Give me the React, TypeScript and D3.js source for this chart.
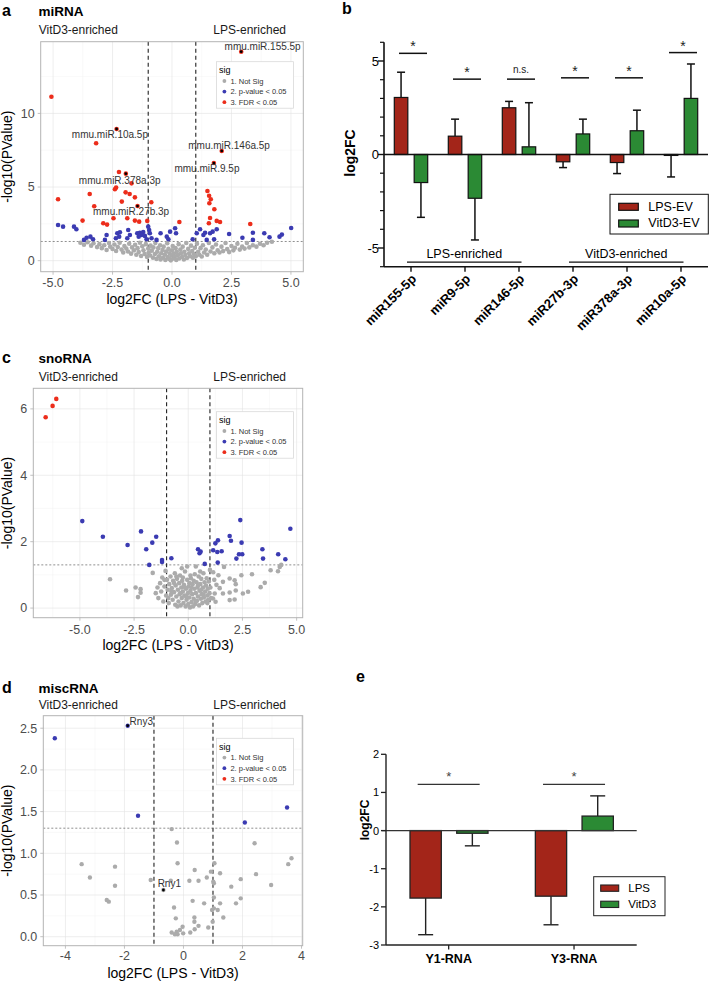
import React from 'react';
import * as d3 from 'd3';

const FONT = "'Liberation Sans', Arial, Helvetica, sans-serif";
const GREY = '#ababab';
const BLUE = '#3b3bb2';
const RED = '#ec2d1b';
const BAR_RED = '#a32519';
const BAR_GREEN = '#2b8a34';

// ---------------- Panel a: miRNA volcano ----------------
const mirnaRed: number[][] = [
  [-5.07, 11.13], [-2.33, 8.94], [-3.19, 7.97], [2.91, 14.19], [2.09, 7.45], [1.76, 6.63],
  [-1.94, 5.91], [-2.23, 6.02], [-1.70, 5.25], [-2.35, 4.96], [-2.40, 4.85], [-3.46, 4.53],
  [-1.95, 4.64], [-1.78, 4.53], [-1.56, 4.30], [-4.79, 4.17], [-2.11, 4.01], [-0.87, 3.97],
  [-1.45, 3.71], [-3.27, 3.70], [-2.46, 2.88], [-1.88, 2.88], [-3.76, 2.72], [-1.56, 2.72],
  [-1.38, 2.65], [-1.04, 2.70], [-2.89, 2.54], [-2.73, 2.45], [0.31, 2.63], [1.49, 4.73],
  [1.56, 4.41], [1.63, 4.17], [1.57, 3.90], [1.78, 3.49], [1.60, 2.90], [1.55, 2.54],
  [1.88, 2.70], [2.02, 2.63], [3.29, 2.49],
];
const mirnaBlue: number[][] = [
  [-4.79, 2.42], [-4.58, 2.31], [-4.12, 2.31], [-4.02, 2.13], [-3.59, 1.56], [-3.43, 1.63],
  [-3.32, 1.45], [-3.70, 1.41], [-2.75, 1.74], [-2.82, 1.41], [-2.30, 1.86], [-2.19, 1.93],
  [-2.22, 1.63], [-2.36, 1.52], [-1.84, 2.08], [-1.77, 1.74], [-1.88, 1.52], [-1.46, 1.86],
  [-1.35, 1.90], [-1.21, 1.95], [-1.28, 1.74], [-1.40, 1.63], [-1.14, 1.68], [-1.00, 2.31],
  [-0.96, 2.08], [-0.93, 1.86], [-0.65, 1.41], [-0.86, 1.52], [-1.07, 1.45], [-0.48, 1.86],
  [-0.22, 1.63], [-0.15, 1.45], [-0.08, 1.97], [0.13, 2.20], [0.17, 1.86], [0.87, 1.45],
  [1.04, 1.86], [1.18, 2.13], [1.32, 1.74], [1.39, 1.90], [1.46, 1.41], [1.60, 1.86],
  [1.71, 1.97], [1.77, 1.45], [1.88, 2.13], [2.40, 1.81], [2.96, 1.56], [3.40, 1.90],
  [3.40, 1.41], [3.88, 1.86], [4.10, 1.59], [4.52, 1.63], [4.62, 1.77], [5.01, 2.22],
];
const mirnaGrey: number[][] = [
  [-3.85, 1.22], [-3.7, 1.08], [-3.55, 1.25], [-3.4, 1.02], [-3.3, 1.18], [-3.15, 0.92], [-3.05, 1.12],
  [-2.95, 0.85], [-2.85, 1.05], [-2.75, 0.72], [-2.65, 1.2], [-2.6, 0.95], [-2.5, 0.8], [-2.42, 1.1],
  [-2.35, 0.66], [-2.28, 0.92], [-2.2, 1.22], [-2.12, 0.75], [-2.05, 0.55], [-2.0, 1.0], [-1.92, 0.82],
  [-1.85, 0.62], [-1.8, 1.15], [-1.72, 0.48], [-1.68, 0.9], [-1.6, 0.7], [-1.55, 1.08], [-1.5, 0.4],
  [-1.45, 0.85], [-1.4, 0.58], [-1.35, 1.22], [-1.3, 0.32], [-1.25, 0.98], [-1.2, 0.7], [-1.15, 0.45],
  [-1.1, 1.12], [-1.05, 0.25], [-1.0, 0.82], [-0.98, 0.55], [-0.92, 0.35], [-0.9, 1.02], [-0.85, 0.68],
  [-0.8, 0.2], [-0.78, 0.9], [-0.72, 0.45], [-0.7, 1.2], [-0.65, 0.12], [-0.62, 0.6], [-0.58, 0.85],
  [-0.55, 0.3], [-0.5, 1.05], [-0.48, 0.08], [-0.45, 0.5], [-0.4, 0.72], [-0.38, 0.2], [-0.35, 0.95],
  [-0.3, 0.4], [-0.28, 0.05], [-0.25, 0.62], [-0.2, 1.18], [-0.18, 0.25], [-0.15, 0.8], [-0.12, 0.12],
  [-0.1, 0.5], [-0.05, 0.02], [-0.02, 0.35], [0.0, 0.7], [0.03, 1.0], [0.05, 0.15], [0.08, 0.48],
  [0.12, 0.28], [0.15, 0.85], [0.18, 0.05], [0.2, 0.6], [0.25, 0.38], [0.28, 1.12], [0.3, 0.15],
  [0.35, 0.75], [0.38, 0.5], [0.42, 0.25], [0.45, 0.95], [0.5, 0.08], [0.52, 0.6], [0.56, 0.38],
  [0.6, 1.2], [0.63, 0.18], [0.68, 0.8], [0.72, 0.5], [0.76, 0.3], [0.8, 1.02], [0.85, 0.65],
  [0.88, 0.2], [0.92, 0.45], [0.96, 0.88], [1.0, 0.3], [1.05, 1.15], [1.1, 0.6], [1.15, 0.4],
  [1.2, 0.85], [1.25, 0.28], [1.3, 1.05], [1.35, 0.55], [1.42, 0.75], [1.48, 0.4], [1.55, 1.2],
  [1.62, 0.62], [1.7, 0.9], [1.78, 0.5], [1.85, 1.1], [1.92, 0.7], [2.0, 0.55], [2.08, 0.95],
  [2.15, 0.65], [2.25, 1.2], [2.32, 0.78], [2.4, 0.58], [2.5, 1.0], [2.58, 0.7], [2.65, 0.88],
  [2.75, 1.15], [2.85, 0.75], [2.95, 0.95], [3.05, 0.82], [3.15, 1.2], [3.25, 0.9], [3.4, 1.05],
  [3.55, 0.95], [3.7, 1.15], [3.85, 1.05], [4.0, 1.22], [4.2, 1.28],
];
const mirnaLabels = [
  { name: 'mmu.miR.155.5p', x: 2.91, y: 14.19, tx: 3.81, ty: 14.3 },
  { name: 'mmu.miR.10a.5p', x: -2.33, y: 8.94, tx: -2.61, ty: 8.31 },
  { name: 'mmu.miR.146a.5p', x: 2.09, y: 7.45, tx: 2.4, ty: 7.56 },
  { name: 'mmu.miR.9.5p', x: 1.76, y: 6.63, tx: 1.47, ty: 6.0 },
  { name: 'mmu.miR.378a.3p', x: -1.94, y: 5.91, tx: -2.2, ty: 5.21 },
  { name: 'mmu.miR.27b.3p', x: -1.45, y: 3.71, tx: -1.72, ty: 3.1 },
];

// ---------------- Panel c: snoRNA volcano ----------------
const snoRed: number[][] = [[-6.58, 5.75], [-6.26, 6.09], [-6.09, 6.3]];
const snoBlue: number[][] = [
  [-4.89, 2.62], [-3.94, 2.15], [-2.8, 1.9], [-2.18, 2.31], [-1.94, 1.77], [-1.66, 1.97],
  [-1.48, 2.15], [-1.8, 1.3], [-1.21, 1.45], [-1.21, 1.39], [-0.78, 1.5], [0.45, 1.77],
  [0.57, 1.7], [0.52, 1.65], [0.76, 1.33], [1.15, 1.74], [1.34, 1.69], [1.54, 1.71],
  [1.25, 1.95], [1.37, 2.04], [1.36, 1.37], [1.91, 2.17], [1.97, 2.03], [2.4, 2.65],
  [2.46, 1.97], [2.22, 1.49], [2.34, 1.62], [2.49, 1.62], [3.42, 1.77], [3.45, 1.49],
  [4.15, 1.62], [4.48, 1.47], [4.71, 2.39],
];
const snoGrey: number[][] = [
  [-3.61, 0.87], [-2.87, 0.53], [-2.43, 0.62], [-2.2, 0.57], [-2.2, 0.46], [-2.32, 0.33],
  [-1.64, 1.06], [-1.5, 0.45], [-1.42, 0.62], [-1.38, 0.3], [-1.3, 0.75], [-1.25, 0.5], [-1.2, 0.92],
  [-1.15, 0.2], [-1.1, 0.65], [-1.05, 1.12], [-1.02, 0.38], [-0.98, 0.85], [-0.95, 0.55], [-0.9, 0.15],
  [-0.88, 0.72], [-0.82, 0.95], [-0.8, 0.4], [-0.76, 0.6], [-0.72, 0.25], [-0.7, 0.82], [-0.66, 0.48],
  [-0.62, 1.05], [-0.6, 0.1], [-0.58, 0.68], [-0.55, 0.35], [-0.52, 0.88], [-0.48, 0.55], [-0.45, 0.2],
  [-0.42, 0.75], [-0.4, 0.42], [-0.38, 0.98], [-0.35, 0.08], [-0.32, 0.62], [-0.3, 0.3], [-0.28, 0.82],
  [-0.25, 0.5], [-0.22, 0.15], [-0.2, 0.7], [-0.18, 0.38], [-0.15, 1.1], [-0.12, 0.05], [-0.1, 0.58],
  [-0.08, 0.25], [-0.05, 0.85], [-0.02, 0.45], [0.0, 0.12], [0.02, 0.65], [0.05, 0.32], [0.08, 0.02],
  [0.1, 0.52], [0.12, 0.9], [0.15, 0.18], [0.18, 0.42], [0.2, 0.72], [0.22, 0.05], [0.25, 0.28],
  [0.28, 0.58], [0.3, 1.02], [0.32, 0.12], [0.35, 0.45], [0.38, 0.78], [0.4, 0.22], [0.42, 0.62],
  [0.45, 0.35], [0.48, 0.95], [0.5, 0.08], [0.52, 0.52], [0.55, 0.72], [0.58, 0.28], [0.6, 0.88],
  [0.62, 0.42], [0.65, 0.15], [0.68, 0.62], [0.7, 1.05], [0.72, 0.32], [0.75, 0.78], [0.78, 0.5],
  [0.8, 0.2], [0.82, 0.68], [0.85, 0.9], [0.88, 0.38], [0.9, 0.58], [0.92, 0.25], [0.95, 0.8],
  [0.98, 0.45], [1.0, 1.15], [1.02, 0.62], [1.05, 0.3], [-0.92, 0.3], [-0.5, 0.05], [0.15, 0.62],
  [-0.25, 0.92], [0.6, 0.55], [0.35, 0.2], [-0.65, 0.75], [-0.1, 0.35], [0.25, 0.82], [-0.35, 0.45],
  [0.45, 0.68], [0.05, 0.75], [-0.15, 0.62], [0.7, 0.4], [-0.78, 0.5], [0.88, 0.15], [-1.1, 0.85],
  [-0.55, 0.95], [0.1, 0.98], [0.55, 1.1], [-0.3, 1.2], [0.35, 1.25], [-0.05, 1.25],
  [1.15, 1.08], [1.39, 0.99], [1.65, 1.24], [1.91, 0.89], [2.14, 0.84], [2.19, 0.72], [1.6, 0.79],
  [2.94, 1.02], [3.8, 1.14], [4.14, 1.11], [4.22, 1.24], [4.29, 1.3], [3.53, 0.76], [3.34, 0.63],
  [2.76, 0.49], [2.52, 0.44], [2.19, 0.53], [1.91, 0.47], [2.14, 0.26], [1.91, 0.24], [1.6, 0.44],
  [1.22, 0.44], [1.26, 0.19], [1.14, 0.29], [2.45, 0.99], [1.3, 0.7], [1.45, 0.6], [1.2, 0.85],
];

// ---------------- Panel d: miscRNA volcano ----------------
const miscRed: number[][] = [];
const miscBlue: number[][] = [[-4.36, 2.38], [-1.89, 2.53], [-1.54, 1.45], [2.08, 1.37], [3.51, 1.55]];
const miscGrey: number[][] = [
  [-3.45, 0.87], [-3.17, 0.71], [-2.32, 0.84], [-2.32, 0.61], [-2.6, 0.44], [-2.53, 0.42],
  [-1.11, 0.68], [-0.68, 0.56], [-0.4, 1.29], [-0.22, 1.13], [-0.2, 0.88], [-0.43, 0.67],
  [-0.32, 0.35], [-0.26, 0.22], [0.38, 0.8], [0.2, 0.67], [0.31, 0.43], [0.37, 0.23], [0.37, 0.18],
  [0.51, 0.67], [0.7, 0.4], [0.79, 0.71], [0.93, 0.78], [1.05, 0.88], [1.01, 0.66], [1.03, 0.64],
  [1.03, 0.47], [0.97, 0.32], [1.03, 0.34], [0.99, 0.18], [1.24, 0.76], [1.24, 0.4], [1.16, 0.32],
  [1.35, 0.23], [1.62, 0.6], [1.78, 0.4], [1.94, 0.46], [1.94, 0.69], [2.41, 1.12], [2.46, 0.75],
  [2.97, 0.62], [3.55, 0.87], [3.66, 0.94], [0.84, 0.11], [0.51, 0.13], [0.38, 0.09], [0.23, 0.05],
  [-0.03, 0.12], [-0.12, 0.08], [-0.01, 0.04], [-0.23, 0.06], [-0.29, 0.03], [-0.4, 0.05], [-0.2, 0.03],
];
const miscLabels = [
  { name: 'Rny3', x: -1.89, y: 2.53, tx: -1.43, ty: 2.54 },
  { name: 'Rny1', x: -0.68, y: 0.56, tx: -0.48, ty: 0.6 },
];

const legendItems = ['1. Not Sig', '2. p-value < 0.05', '3. FDR < 0.05'];
const legendColors = [GREY, BLUE, RED];

// ---------------- Panel b: miRNA qPCR bars ----------------
const mirs = ['miR155-5p', 'miR9-5p', 'miR146-5p', 'miR27b-3p', 'miR378a-3p', 'miR10a-5p'];
const bSeries = ['LPS-EV', 'VitD3-EV'];
const bLps = [3.05, 0.98, 2.5, -0.39, -0.43, -0.05];
const bLpsErr = [1.35, 0.91, 0.34, 0.31, 0.59, 1.15];
const bVit = [-1.5, -2.34, 0.41, 1.1, 1.27, 3.0];
const bVitErr = [1.86, 2.23, 2.36, 0.79, 1.1, 1.84];
const bSig = ['*', '*', 'n.s.', '*', '*', '*'];
const bSigY = [5.41, 4.03, 4.03, 4.1, 4.1, 5.45];
const bGroups = [
  { label: 'LPS-enriched', from: 'miR155-5p', to: 'miR146-5p' },
  { label: 'VitD3-enriched', from: 'miR27b-3p', to: 'miR10a-5p' },
];
const bYTicks = [-5, 0, 5];
const bYMinor = [-6, -4, -3, -2, -1, 1, 2, 3, 4, 6];

// ---------------- Panel e: Y-RNA bars ----------------
const yrnas = ['Y1-RNA', 'Y3-RNA'];
const eSeries = ['LPS', 'VitD3'];
const eLps = [-1.77, -1.72];
const eLpsErr = [0.96, 0.75];
const eVit = [-0.07, 0.38];
const eVitErr = [0.33, 0.53];
const eSig = ['*', '*'];
const eSigY = [1.21, 1.21];
const eYTicks = [-3, -2, -1, 0, 1, 2];

type VProps = {
  left: number; right: number; top: number; bottom: number;
  xDomain: [number, number]; yDomain: [number, number];
  xTicks: number[]; xMinor: number[]; yTicks: number[]; yMinor: number[];
  xFmt: (v: number) => string; yFmt: (v: number) => string;
  grey: number[][]; blue: number[][]; red: number[][];
  labels: { name: string; x: number; y: number; tx: number; ty: number }[];
  letter: string; title: string; titleY: number; subY: number; xTickY: number;
  legendTop: number; r: number;
};

function Volcano(p: VProps) {
  const x = d3.scaleLinear().domain(p.xDomain).range([p.left, p.right]);
  const y = d3.scaleLinear().domain(p.yDomain).range([p.bottom, p.top]);
  const lx = 216.4;
  const ly = p.legendTop;
  return (
    <g fontFamily={FONT}>
      <text x={2} y={p.titleY} fontSize={16} fontWeight="bold">{p.letter}</text>
      <text x={38.5} y={p.titleY} fontSize={13.5} fontWeight="bold">{p.title}</text>
      <text x={38.7} y={p.subY} fontSize={12} fill="#1a1a1a">VitD3-enriched</text>
      <text x={213.3} y={p.subY} fontSize={12} fill="#1a1a1a">LPS-enriched</text>
      <rect x={p.left} y={p.top} width={p.right - p.left} height={p.bottom - p.top} fill="#fff" />
      {p.xMinor.map((v) => (
        <line key={'xm' + v} x1={x(v)} x2={x(v)} y1={p.top} y2={p.bottom} stroke="#f0f0f0" strokeWidth={0.4} />
      ))}
      {p.yMinor.map((v) => (
        <line key={'ym' + v} y1={y(v)} y2={y(v)} x1={p.left} x2={p.right} stroke="#f0f0f0" strokeWidth={0.4} />
      ))}
      {p.xTicks.map((v) => (
        <line key={'xg' + v} x1={x(v)} x2={x(v)} y1={p.top} y2={p.bottom} stroke="#e3e3e3" strokeWidth={0.6} />
      ))}
      {p.yTicks.map((v) => (
        <line key={'yg' + v} y1={y(v)} y2={y(v)} x1={p.left} x2={p.right} stroke="#e3e3e3" strokeWidth={0.6} />
      ))}
      <line x1={x(-1)} x2={x(-1)} y1={p.top} y2={p.bottom} stroke="#222" strokeWidth={1.1} strokeDasharray="4,3" />
      <line x1={x(1)} x2={x(1)} y1={p.top} y2={p.bottom} stroke="#222" strokeWidth={1.1} strokeDasharray="4,3" />
      <line x1={p.left} x2={p.right} y1={y(1.301)} y2={y(1.301)} stroke="#444" strokeWidth={0.6} strokeDasharray="2,2" />
      {p.grey.map((d, i) => <circle key={'g' + i} cx={x(d[0])} cy={y(d[1])} r={p.r} fill={GREY} />)}
      {p.blue.map((d, i) => <circle key={'b' + i} cx={x(d[0])} cy={y(d[1])} r={p.r} fill={BLUE} />)}
      {p.red.map((d, i) => <circle key={'r' + i} cx={x(d[0])} cy={y(d[1])} r={p.r} fill={RED} />)}
      {p.labels.map((l) => (
        <g key={l.name}>
          <circle cx={x(l.x)} cy={y(l.y)} r={1.4} fill="#000" />
          <text x={x(l.tx)} y={y(l.ty)} fontSize={10} textAnchor="middle" fill="#333">{l.name}</text>
        </g>
      ))}
      <rect x={p.left} y={p.top} width={p.right - p.left} height={p.bottom - p.top} fill="none" stroke="#b3b3b3" strokeWidth={1} />
      {p.xTicks.map((v) => (
        <g key={'xt' + v}>
          <line x1={x(v)} x2={x(v)} y1={p.bottom} y2={p.bottom + 3} stroke="#b3b3b3" strokeWidth={0.8} />
          <text x={x(v)} y={p.xTickY} fontSize={12.5} textAnchor="middle" fill="#4d4d4d">{p.xFmt(v)}</text>
        </g>
      ))}
      {p.yTicks.map((v) => (
        <g key={'yt' + v}>
          <line x1={p.left - 3} x2={p.left} y1={y(v)} y2={y(v)} stroke="#b3b3b3" strokeWidth={0.8} />
          <text x={p.left - 6} y={y(v) + 4.3} fontSize={12.5} textAnchor="end" fill="#4d4d4d">{p.yFmt(v)}</text>
        </g>
      ))}
      <text x={(p.left + p.right) / 2} y={p.bottom + 32.5} fontSize={14} textAnchor="middle">log2FC (LPS - VitD3)</text>
      <text transform={`translate(12,${(p.top + p.bottom) / 2}) rotate(-90)`} fontSize={14} textAnchor="middle">-log10(PValue)</text>
      <rect x={lx} y={ly} width={77} height={46.5} fill="#fff" stroke="#d9d9d9" strokeWidth={0.8} />
      <text x={lx + 2.5} y={ly + 11.5} fontSize={9}>sig</text>
      {legendItems.map((t, i) => (
        <g key={t}>
          <circle cx={lx + 8} cy={ly + 19.3 + i * 10.6} r={1.9} fill={legendColors[i]} />
          <text x={lx + 14} y={ly + 22 + i * 10.6} fontSize={7.5} fill="#333">{t}</text>
        </g>
      ))}
    </g>
  );
}

function PanelB() {
  const left = 384, right = 708, top = 42.3, bottom = 266.7;
  const x = d3.scaleBand<string>().domain(mirs).range([left, right]);
  const sub = d3.scaleBand<string>().domain(bSeries).range([10.3, 43.7]).paddingInner(0.32);
  const y = d3.scaleLinear().domain([-6, 6]).range([bottom, top]);
  const cx = (c: string) => (x(c) as number) + x.bandwidth() / 2;
  const series = [
    { key: 'LPS-EV', vals: bLps, errs: bLpsErr, color: BAR_RED },
    { key: 'VitD3-EV', vals: bVit, errs: bVitErr, color: BAR_GREEN },
  ];
  const bw = sub.bandwidth();
  return (
    <g fontFamily={FONT}>
      <text x={342} y={14} fontSize={16} fontWeight="bold">b</text>
      {series.map((s) =>
        mirs.map((m, i) => {
          const v = s.vals[i];
          const e = s.errs[i];
          const bx = (x(m) as number) + (sub(s.key) as number);
          const mid = bx + bw / 2;
          const tip = v >= 0 ? v + e : v - e;
          return (
            <g key={s.key + m}>
              <line x1={mid} x2={mid} y1={y(v)} y2={y(tip)} stroke="#111" strokeWidth={1.5} />
              <line x1={mid - 4} x2={mid + 4} y1={y(tip)} y2={y(tip)} stroke="#111" strokeWidth={1.5} />
              <rect x={bx} y={Math.min(y(v), y(0))} width={bw} height={Math.max(Math.abs(y(v) - y(0)), 0.8)}
                fill={s.color} stroke="#111" strokeWidth={1.2} />
            </g>
          );
        })
      )}
      <line x1={left} x2={right} y1={y(0)} y2={y(0)} stroke="#111" strokeWidth={1.5} />
      <line x1={left} x2={left} y1={top} y2={bottom} stroke="#111" strokeWidth={1.6} />
      <line x1={left} x2={right} y1={bottom} y2={bottom} stroke="#111" strokeWidth={1.6} />
      {bYTicks.map((v) => (
        <g key={'bt' + v}>
          <line x1={left - 6} x2={left} y1={y(v)} y2={y(v)} stroke="#111" strokeWidth={1.4} />
          <text x={left - 5} y={y(v) + 4.5} fontSize={13} textAnchor="end">{v}</text>
        </g>
      ))}
      {bYMinor.map((v) => (
        <line key={'bm' + v} x1={left - 4} x2={left} y1={y(v)} y2={y(v)} stroke="#111" strokeWidth={1.2} />
      ))}
      {mirs.map((m) => (
        <g key={'xl' + m}>
          <line x1={cx(m)} x2={cx(m)} y1={bottom} y2={bottom + 5} stroke="#111" strokeWidth={1.4} />
          <text transform={`translate(${cx(m) + 6},${bottom + 13}) rotate(-45)`} fontSize={13} fontWeight="bold" textAnchor="end">{m}</text>
        </g>
      ))}
      {mirs.map((m, i) => (
        <g key={'sig' + m}>
          <line x1={cx(m) - 12} x2={cx(m) + 16} y1={y(bSigY[i])} y2={y(bSigY[i])} stroke="#111" strokeWidth={1.5} />
          <text x={cx(m) + 2} y={y(bSigY[i]) - (bSig[i] === '*' ? 2 : 6.3)} fontSize={bSig[i] === '*' ? 14 : 10}
            textAnchor="middle" fill="#222">{bSig[i]}</text>
        </g>
      ))}
      {bGroups.map((g) => {
        const x1 = cx(g.from) - 4;
        const x2 = cx(g.to) + 2.5;
        return (
          <g key={g.label}>
            <line x1={x1} x2={x2} y1={y(-5.75)} y2={y(-5.75)} stroke="#111" strokeWidth={1.3} />
            <text x={(x1 + x2) / 2} y={y(-5.55)} fontSize={12.5} textAnchor="middle">{g.label}</text>
          </g>
        );
      })}
      <text transform={`translate(355,153) rotate(-90)`} fontSize={14} fontWeight="bold" textAnchor="middle">log2FC</text>
      <rect x={610} y={194.3} width={98.3} height={39.7} fill="#fff" stroke="#111" strokeWidth={1} />
      {series.map((s, i) => (
        <g key={'lg' + s.key}>
          <rect x={618.7} y={203.3 + i * 16.7} width={19.6} height={7} fill={s.color} stroke="#111" strokeWidth={1.2} />
          <text x={648.3} y={210.7 + i * 16.6} fontSize={12.5}>{s.key}</text>
        </g>
      ))}
    </g>
  );
}

function PanelE() {
  const left = 386, right = 636.7, top = 754.3, bottom = 945;
  const x = d3.scaleBand<string>().domain(yrnas).range([left, right]);
  const sub = d3.scaleBand<string>().domain(eSeries).range([24, 102]).paddingInner(0.33);
  const y = d3.scaleLinear().domain([-3, 2]).range([bottom, top]);
  const cx = (c: string) => (x(c) as number) + x.bandwidth() / 2;
  const bw = sub.bandwidth();
  const series = [
    { key: 'LPS', vals: eLps, errs: eLpsErr, color: BAR_RED },
    { key: 'VitD3', vals: eVit, errs: eVitErr, color: BAR_GREEN },
  ];
  return (
    <g fontFamily={FONT}>
      <text x={356} y={682} fontSize={16} fontWeight="bold">e</text>
      {series.map((s) =>
        yrnas.map((g, i) => {
          const v = s.vals[i];
          const e = s.errs[i];
          const bx = (x(g) as number) + (sub(s.key) as number);
          const mid = bx + bw / 2;
          const tip = v >= 0 ? v + e : v - e;
          return (
            <g key={s.key + g}>
              <line x1={mid} x2={mid} y1={y(v)} y2={y(tip)} stroke="#222" strokeWidth={1.4} />
              <line x1={mid - 7.5} x2={mid + 7.5} y1={y(tip)} y2={y(tip)} stroke="#222" strokeWidth={1.4} />
              <rect x={bx} y={Math.min(y(v), y(0))} width={bw} height={Math.abs(y(v) - y(0))}
                fill={s.color} stroke="#222" strokeWidth={1.3} />
            </g>
          );
        })
      )}
      <line x1={left - 4.3} x2={right} y1={y(0)} y2={y(0)} stroke="#333" strokeWidth={1.3} />
      <line x1={left} x2={left} y1={top} y2={bottom} stroke="#222" strokeWidth={1.4} />
      <line x1={left} x2={right} y1={bottom} y2={bottom} stroke="#222" strokeWidth={1.4} />
      {eYTicks.map((v) => (
        <g key={'et' + v}>
          <line x1={left - 5} x2={left} y1={y(v)} y2={y(v)} stroke="#222" strokeWidth={1.3} />
          <text x={left - 7} y={y(v) + 4} fontSize={11} textAnchor="end">{v}</text>
        </g>
      ))}
      {yrnas.map((g, i) => (
        <g key={'ex' + g}>
          <line x1={cx(g)} x2={cx(g)} y1={bottom} y2={bottom + 4.5} stroke="#222" strokeWidth={1.3} />
          <text x={cx(g)} y={963.3} fontSize={12.5} fontWeight="bold" textAnchor="middle">{g}</text>
          <line x1={cx(g) - 31} x2={cx(g) + 31} y1={y(eSigY[i])} y2={y(eSigY[i])} stroke="#333" strokeWidth={1.3} />
          <text x={cx(g)} y={y(eSigY[i]) - 3} fontSize={13} textAnchor="middle" fill="#444">{eSig[i]}</text>
        </g>
      ))}
      <text transform={`translate(369,820) rotate(-90)`} fontSize={12} fontWeight="bold" textAnchor="middle">log2FC</text>
      <rect x={593.7} y={876.7} width={71.3} height={39} fill="#fff" stroke="#222" strokeWidth={1} />
      {series.map((s, i) => (
        <g key={'el' + s.key}>
          <rect x={600.7} y={885 + i * 16.2} width={18} height={6.3} fill={s.color} stroke="#222" strokeWidth={1.1} />
          <text x={628.3} y={891.7 + i * 16.4} fontSize={11.5}>{s.key}</text>
        </g>
      ))}
    </g>
  );
}

const f1 = (v: number) => d3.format('.1f')(v).replace('−', '-');
const f0 = (v: number) => String(v);

export default function App() {
  return (
    <svg width={709} height={983} viewBox="0 0 709 983"
      style={{ position: 'absolute', left: 0, top: 0, background: '#fff' }}>
      <rect x={0} y={0} width={709} height={983} fill="#fff" />
      <Volcano left={40.7} right={303.3} top={41.7} bottom={271.7}
        xDomain={[-5.52, 5.52]} yDomain={[-0.75, 14.87]}
        xTicks={[-5, -2.5, 0, 2.5, 5]} xMinor={[-3.75, -1.25, 1.25, 3.75]}
        yTicks={[0, 5, 10]} yMinor={[2.5, 7.5, 12.5]}
        xFmt={f1} yFmt={f0}
        grey={mirnaGrey} blue={mirnaBlue} red={mirnaRed} labels={mirnaLabels}
        letter="a" title="miRNA" titleY={15.5} subY={34.3} xTickY={286.7} legendTop={61.7} r={2.3} />
      <Volcano left={33.3} right={302.7} top={388.3} bottom={617.7}
        xDomain={[-7.15, 5.28]} yDomain={[-0.29, 6.62]}
        xTicks={[-5, -2.5, 0, 2.5, 5]} xMinor={[-6.25, -3.75, -1.25, 1.25, 3.75]}
        yTicks={[0, 2, 4, 6]} yMinor={[1, 3, 5]}
        xFmt={f1} yFmt={f0}
        grey={snoGrey} blue={snoBlue} red={snoRed} labels={[]}
        letter="c" title="snoRNA" titleY={363} subY={381.3} xTickY={634} legendTop={411.7} r={2.3} />
      <Volcano left={43.3} right={302.7} top={715.7} bottom={945.7}
        xDomain={[-4.75, 4.04]} yDomain={[-0.108, 2.65]}
        xTicks={[-4, -2, 0, 2, 4]} xMinor={[-3, -1, 1, 3]}
        yTicks={[0, 0.5, 1, 1.5, 2, 2.5]} yMinor={[0.25, 0.75, 1.25, 1.75, 2.25]}
        xFmt={f0} yFmt={f1}
        grey={miscGrey} blue={miscBlue} red={miscRed} labels={miscLabels}
        letter="d" title="miscRNA" titleY={692.5} subY={709} xTickY={960} legendTop={738.3} r={2.2} />
      <PanelB />
      <PanelE />
    </svg>
  );
}
